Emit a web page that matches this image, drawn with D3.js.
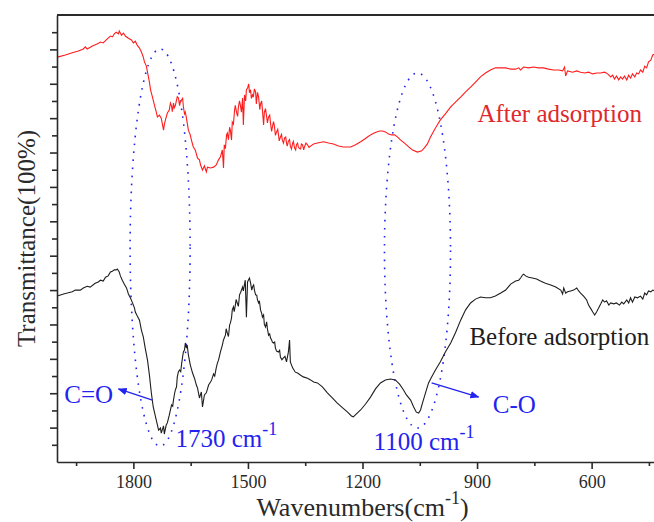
<!DOCTYPE html>
<html lang='en'>
  <head>
    <meta charset='utf-8'>
    <style type='text/css'>
      body {margin: 0; background-color: #fff;}
      #chart {width: 654px; height: 522px; overflow: hidden;}
      svg {display: block;}
      text {font-family: 'Liberation Serif', 'Times New Roman', serif;}
    </style>
  </head>
  <body>
    <div id='chart'><svg width='654' height='522'></svg></div>

    <script src='https://d3js.org/d3.v7.min.js'></script>
    <script type='text/javascript'>
        // [wavenumber (cm-1), transmittance]
        var afterSpectrum = [
          [1999,94.2],[1978,94.7],[1960,95.2],[1944,95.6],[1931,96.1],[1926,96.6],[1921,96.1],[1907,96.8],
          [1894,97.3],[1886,97.7],[1879,97.5],[1871,98.2],[1866,98.6],[1860,99.1],[1855,98.9],[1850,99.6],
          [1845,100.0],[1839,99.6],[1837,100.3],[1831,99.3],[1826,99.8],[1821,99.1],[1813,98.6],[1805,98.2],
          [1800,97.5],[1795,97.9],[1790,97.0],[1784,96.3],[1779,95.4],[1774,94.2],[1771,93.1],[1766,92.1],
          [1763,90.7],[1758,88.4],[1755,86.6],[1750,84.9],[1745,83.1],[1740,81.4],[1737,80.3],[1732,80.7],
          [1727,80.0],[1721,77.2],[1716,79.6],[1711,81.2],[1706,81.9],[1700,82.8],[1695,83.5],[1693,82.4],
          [1687,84.2],[1682,84.7],[1677,83.8],[1674,84.2],[1669,82.6],[1664,81.4],[1661,80.0],[1656,77.2],
          [1651,76.1],[1648,74.9],[1643,73.3],[1638,72.6],[1632,70.7],[1627,70.3],[1624,69.1],[1619,67.9],
          [1614,68.9],[1609,67.5],[1606,68.6],[1598,68.4],[1590,68.6],[1583,69.1],[1577,70.3],[1572,71.0],
          [1567,72.6],[1564,68.4],[1562,73.8],[1556,76.1],[1554,76.5],[1548,77.9],[1546,77.2],[1543,74.9],
          [1541,79.1],[1535,81.9],[1530,81.4],[1525,82.6],[1520,83.1],[1517,81.4],[1514,84.7],[1512,78.4],
          [1509,85.4],[1504,86.6],[1501,87.0],[1496,85.9],[1493,86.6],[1488,85.4],[1486,84.9],[1480,86.1],
          [1478,83.3],[1472,84.9],[1467,83.3],[1462,81.9],[1459,78.4],[1457,81.4],[1451,80.3],[1446,80.3],
          [1441,78.9],[1436,77.9],[1431,78.4],[1425,76.8],[1420,76.1],[1415,75.6],[1410,74.9],[1404,75.4],
          [1399,74.2],[1394,74.7],[1389,73.5],[1383,74.2],[1378,73.1],[1373,73.8],[1368,73.3],[1362,72.8],
          [1357,73.8],[1352,73.3],[1344,73.8],[1336,73.5],[1328,74.0],[1318,74.2],[1302,74.5],[1289,74.2],
          [1276,74.0],[1263,73.5],[1250,73.3],[1231,73.3],[1218,73.8],[1205,74.5],[1195,75.1],[1187,75.6],
          [1179,76.1],[1171,76.5],[1163,76.8],[1155,77.0],[1148,77.0],[1140,76.8],[1132,76.3],[1124,76.1],
          [1116,76.1],[1108,75.6],[1100,74.9],[1090,74.2],[1079,73.3],[1069,72.6],[1056,72.1],[1045,72.4],
          [1038,73.1],[1030,74.0],[1022,75.6],[1009,77.7],[996,79.6],[983,81.0],[969,82.6],[956,83.8],
          [943,84.9],[930,86.1],[917,87.2],[904,88.4],[891,89.6],[878,90.5],[865,91.2],[852,91.7],
          [838,91.7],[825,91.7],[812,91.4],[799,91.4],[791,91.7],[786,91.2],[778,91.9],[765,91.7],
          [752,91.9],[739,91.7],[726,91.7],[713,91.4],[700,91.2],[686,91.2],[676,91.0],[671,91.9],
          [668,89.8],[663,91.0],[650,90.7],[639,91.0],[629,90.7],[618,90.5],[608,90.7],[597,90.3],
          [587,90.5],[576,90.5],[566,90.7],[558,90.3],[550,89.6],[545,90.0],[540,89.1],[535,89.8],
          [529,88.9],[524,89.6],[519,89.1],[514,89.8],[508,88.9],[503,90.0],[498,89.3],[493,90.3],
          [487,89.6],[482,90.5],[477,90.3],[472,91.2],[466,90.7],[461,92.1],[456,91.7],[451,93.1],
          [445,93.5],[440,94.7],[435,94.9],
          // jagged stretch of the 1700-1340 region
          [1719,78.5],[1703,83.5],[1698,81.5],[1690,83.0],[1685,85.0],[1679,82.9],[1671,84.6],[1666,81.0],
          [1559,72.9],[1551,75.0],[1538,78.6],[1533,83.0],[1527,80.4],[1522,84.0],[1506,84.0],[1498,88.0],
          [1491,84.6],[1483,86.8],[1475,86.0],[1469,82.0],[1464,84.0],[1454,82.2],[1449,78.9],[1443,80.7],
          [1438,76.9],[1433,79.2],[1428,76.0],[1422,77.4],[1418,74.7],[1412,76.2],[1407,74.2],[1401,75.6],
          [1397,73.5],[1391,75.0],[1386,72.8],[1381,74.6],[1375,72.6],[1370,74.2],[1365,72.9],[1360,74.0],
          [1354,72.6],[1348,74.2],[1340,73.2]
        ];

        var beforeSpectrum = [
          [1999,38.6],[1983,39.1],[1973,39.3],[1960,39.6],[1952,40.0],[1939,40.0],[1931,40.5],[1921,40.9],
          [1913,40.7],[1900,41.6],[1892,41.9],[1886,42.3],[1879,42.1],[1873,43.0],[1866,43.3],[1860,44.2],
          [1855,44.4],[1850,44.7],[1845,44.7],[1842,44.9],[1837,44.2],[1834,43.3],[1829,42.3],[1824,41.4],
          [1818,40.5],[1813,39.1],[1808,38.2],[1803,37.2],[1797,35.8],[1795,34.9],[1790,34.0],[1784,33.0],
          [1779,30.7],[1774,29.1],[1769,26.5],[1763,23.7],[1758,20.2],[1753,16.1],[1748,12.8],[1742,10.5],
          [1737,8.6],[1734,7.4],[1729,7.9],[1727,6.7],[1721,8.4],[1719,6.5],[1714,8.6],[1711,9.1],
          [1706,10.9],[1700,13.3],[1695,14.4],[1690,16.8],[1685,19.8],[1679,21.4],[1674,22.6],[1669,25.6],
          [1666,26.1],[1664,27.7],[1661,26.5],[1659,27.2],[1656,24.9],[1651,22.6],[1645,20.7],[1640,19.5],
          [1635,17.9],[1632,17.2],[1627,14.9],[1622,16.3],[1619,12.8],[1614,15.6],[1609,16.1],[1603,17.9],
          [1598,18.6],[1590,20.5],[1583,21.9],[1577,23.7],[1572,25.6],[1567,27.2],[1564,28.4],[1559,29.5],
          [1554,30.0],[1548,31.9],[1546,32.3],[1541,35.4],[1538,36.1],[1533,36.5],[1528,37.0],[1522,38.9],
          [1517,40.0],[1514,40.7],[1509,41.4],[1507,42.3],[1504,33.7],[1501,41.9],[1499,42.3],[1493,41.6],
          [1488,40.7],[1483,40.0],[1480,38.9],[1475,37.7],[1472,37.0],[1467,35.4],[1462,33.7],[1459,34.2],
          [1454,31.4],[1451,32.6],[1446,29.5],[1441,28.9],[1436,27.9],[1433,27.7],[1428,26.5],[1420,25.6],
          [1415,24.4],[1407,24.2],[1399,23.3],[1394,25.6],[1391,28.4],[1389,23.3],[1383,21.9],[1376,20.9],
          [1370,20.7],[1362,20.2],[1355,19.8],[1344,19.5],[1336,19.1],[1328,18.6],[1318,18.4],[1305,17.5],
          [1292,16.1],[1279,14.9],[1266,13.7],[1252,12.6],[1239,11.6],[1229,10.7],[1224,10.5],[1216,11.2],
          [1205,12.1],[1192,13.5],[1179,15.1],[1166,17.0],[1153,18.4],[1140,19.1],[1127,19.3],[1114,19.1],
          [1103,18.1],[1093,16.8],[1085,15.6],[1074,14.4],[1066,12.8],[1059,11.6],[1053,11.4],[1048,12.1],
          [1043,13.7],[1035,16.1],[1027,18.4],[1019,19.8],[1009,21.4],[996,23.3],[983,25.6],[969,27.7],
          [956,30.2],[943,33.0],[930,35.4],[917,37.0],[904,37.9],[891,38.4],[878,38.2],[865,38.2],
          [852,38.6],[838,39.3],[825,40.0],[812,41.4],[799,42.1],[791,42.3],[786,42.8],[781,43.5],
          [778,43.7],[773,43.3],[765,43.0],[755,42.8],[744,42.6],[734,42.1],[721,41.6],[707,41.2],
          [694,40.7],[681,40.0],[676,39.1],[673,40.5],[668,39.3],[663,39.6],[655,39.8],[647,40.0],
          [639,40.5],[634,39.8],[629,39.3],[621,38.6],[613,37.7],[608,36.5],[603,35.8],[597,34.9],
          [592,34.2],[587,34.9],[582,35.8],[576,36.8],[571,37.7],[566,37.2],[561,37.5],[555,36.5],
          [550,37.0],[542,36.8],[535,37.0],[527,36.5],[521,37.2],[516,36.8],[508,37.7],[503,37.0],
          [498,38.2],[493,37.2],[487,38.4],[480,38.2],[472,38.6],[466,37.9],[461,39.3],[456,38.9],
          [451,39.8],[445,39.6],[440,40.0],[435,39.8],
          // jagged stretch of the 1700-1400 region
          [1697,13.0],[1692,16.0],[1687,17.5],[1682,21.0],[1676,21.0],[1671,24.5],[1595,19.1],[1587,20.0],
          [1580,23.0],[1557,31.0],[1551,29.2],[1543,33.5],[1536,35.0],[1531,37.8],[1525,36.2],[1519,39.5],
          [1512,39.8],[1496,42.8],[1490,40.0],[1485,41.2],[1477,38.8],[1470,37.5],[1464,34.6],[1457,32.0],
          [1449,31.0],[1443,29.8],[1438,28.4],[1430,27.9],[1425,25.8],[1417,26.0],[1411,23.8],[1403,24.6]
        ];

        var xMajorTicks = [1800, 1500, 1200, 900, 600];
        var xMinorTicks = [1950, 1650, 1350, 1050, 750, 450];
        var yTicks = d3.range(4, 104, 4);

        // Set up the margins
        var margin = {top: 15, left: 57};
        var width  = 611;
        var height = 447;

        var svg = d3.select("svg").append("g")
            .attr("transform", "translate(" + margin.left + "," + margin.top + ")");

        // Scales (wavenumber axis runs high to low)
        var x = d3.scaleLinear().domain([2000, 400]).range([0, width]);
        var y = d3.scaleLinear().domain([0, 104]).range([height, 0]);

        var ink = "#2a2a2a";
        var blue = "#2323f0";

        // Dotted ellipses around the bands
        var rings = [
          {wn: 1730, t: 49.9, dwn: 78.6, dt: 46.2},
          {wn: 1056, t: 49.2, dwn: 86.5, dt: 41.3}
        ];
        svg.selectAll(".ring")
          .data(rings)
          .enter().append("ellipse")
            .attr("class", "ring")
            .attr("cx", function(d) { return x(d.wn); })
            .attr("cy", function(d) { return y(d.t); })
            .attr("rx", function(d) { return x(d.wn - d.dwn) - x(d.wn); })
            .attr("ry", function(d) { return y(0) - y(d.dt); })
            .attr("fill", "none")
            .attr("stroke", blue)
            .attr("stroke-width", 1.6)
            .attr("stroke-dasharray", "1.6,6.4");

        // Spectra
        var line = d3.line()
            .x(function(d) { return x(d[0]); })
            .y(function(d) { return y(d[1]); });

        svg.append("path")
            .datum(d3.sort(afterSpectrum, function(d) { return -d[0]; }))
            .attr("d", line)
            .attr("fill", "none")
            .attr("stroke", "#ff1c1c")
            .attr("stroke-width", 1.1);

        svg.append("path")
            .datum(d3.sort(beforeSpectrum, function(d) { return -d[0]; }))
            .attr("d", line)
            .attr("fill", "none")
            .attr("stroke", "#1e1e1e")
            .attr("stroke-width", 1.1);

        // Axes
        var bottom = svg.append("g")
            .attr("transform", "translate(0," + height + ")")
            .call(d3.axisBottom(x).tickValues(xMajorTicks).tickSize(7).tickSizeOuter(0).tickFormat(d3.format("d")));
        bottom.append("g")
            .call(d3.axisBottom(x).tickValues(xMinorTicks).tickSize(4).tickFormat(""))
            .select(".domain").remove();
        bottom.selectAll("text")
            .attr("y", 13)
            .attr("font-size", 18)
            .attr("fill", ink)
            .style("font-family", "'Liberation Serif', 'Times New Roman', serif");

        var left = svg.append("g")
            .call(d3.axisLeft(y).tickValues(yTicks).tickSizeOuter(0).tickFormat(""));
        left.selectAll(".tick line")
            .attr("x2", function(d) { return d % 8 === 0 ? -7 : -5; });

        svg.selectAll(".domain, .tick line")
            .attr("stroke", ink)
            .attr("stroke-width", 1.6);

        svg.append("line")
            .attr("x1", 0).attr("x2", width)
            .attr("y1", 0).attr("y2", 0)
            .attr("stroke", ink)
            .attr("stroke-width", 1.8);

        // Axis titles
        var xt = svg.append("text")
            .attr("x", width / 2)
            .attr("y", height + 54)
            .attr("text-anchor", "middle")
            .attr("font-size", 26)
            .attr("fill", ink);
        xt.append("tspan").text("Wavenumbers(cm");
        xt.append("tspan").attr("dy", -12).attr("font-size", 18).text("-1");
        xt.append("tspan").attr("dy", 12).text(")");

        svg.append("text")
            .attr("transform", "translate(" + (-22) + "," + (height / 2) + ") rotate(-90)")
            .attr("text-anchor", "middle")
            .attr("font-size", 25)
            .attr("fill", ink)
            .text("Transmittance(100%)");

        // Labels and arrows
        svg.append("text")
            .attr("x", x(899)).attr("y", y(79.1))
            .attr("font-size", 25).attr("fill", "#e0282c")
            .text("After adsorption");

        svg.append("text")
            .attr("x", x(920)).attr("y", y(27.2))
            .attr("font-size", 25).attr("fill", "#1e1e1e")
            .text("Before adsorption");

        var notes = [
          {wn: 1981, t: 13.7, text: "C=O"},
          {wn: 859, t: 11.4, text: "C-O"}
        ];
        svg.selectAll(".note")
          .data(notes)
          .enter().append("text")
            .attr("class", "note")
            .attr("x", function(d) { return x(d.wn); })
            .attr("y", function(d) { return y(d.t); })
            .attr("font-size", 25)
            .attr("fill", blue)
            .text(function(d) { return d.text; });

        var bands = [
          {wn: 1690, t: 3.5, text: "1730 cm"},
          {wn: 1171, t: 2.8, text: "1100 cm"}
        ];
        var bandText = svg.selectAll(".band")
          .data(bands)
          .enter().append("text")
            .attr("class", "band")
            .attr("x", function(d) { return x(d.wn); })
            .attr("y", function(d) { return y(d.t); })
            .attr("font-size", 25)
            .attr("fill", blue);
        bandText.append("tspan").text(function(d) { return d.text; });
        bandText.append("tspan").attr("dy", -12).attr("font-size", 18).text("-1");

        svg.append("defs").append("marker")
            .attr("id", "head")
            .attr("viewBox", "0 0 10 10")
            .attr("refX", 9).attr("refY", 5)
            .attr("markerWidth", 7).attr("markerHeight", 7)
            .attr("orient", "auto")
          .append("path")
            .attr("d", "M0,1L10,5L0,9z")
            .attr("fill", blue);

        var arrows = [
          {from: [1750, 14.4], to: [1839, 17.0]},
          {from: [1019, 18.4], to: [896, 15.1]}
        ];
        svg.selectAll(".arrow")
          .data(arrows)
          .enter().append("line")
            .attr("class", "arrow")
            .attr("x1", function(d) { return x(d.from[0]); })
            .attr("y1", function(d) { return y(d.from[1]); })
            .attr("x2", function(d) { return x(d.to[0]); })
            .attr("y2", function(d) { return y(d.to[1]); })
            .attr("stroke", blue)
            .attr("stroke-width", 1.3)
            .attr("marker-end", "url(#head)");
    </script>
  </body>
</html>
